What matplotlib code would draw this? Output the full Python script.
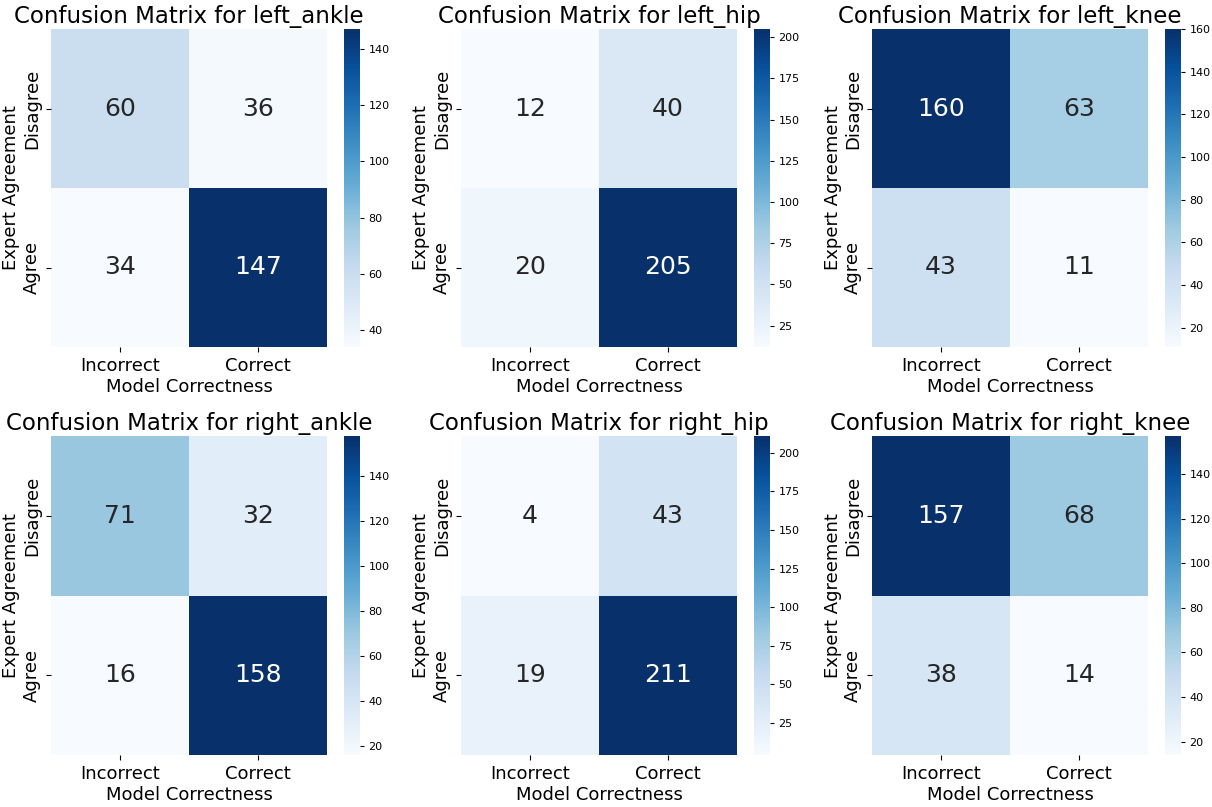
import numpy as np
import matplotlib
matplotlib.use("Agg")
import matplotlib.pyplot as plt
import seaborn as sns

joints = ["left_ankle", "left_hip", "left_knee", "right_ankle", "right_hip", "right_knee"]
row_labels = ["Disagree", "Agree"]
col_labels = ["Incorrect", "Correct"]

left_ankle = [[60, 36], [34, 147]]
left_hip = [[12, 40], [20, 205]]
left_knee = [[160, 63], [43, 11]]
right_ankle = [[71, 32], [16, 158]]
right_hip = [[4, 43], [19, 211]]
right_knee = [[157, 68], [38, 14]]

matrices = [left_ankle, left_hip, left_knee, right_ankle, right_hip, right_knee]

W, H = 1212, 807
fig = plt.figure(figsize=(W / 100, H / 100), dpi=100)

# panel grid in pixels: heatmap left edges, row top/bottom, colorbar offset
col_left = [51, 461, 872]
row_span = [(29, 347), (436, 755)]
heat_w = 276
cbar_gap, cbar_w = 17, 16


def px_axes(x0, y0, w, h):
    return fig.add_axes([x0 / W, 1 - (y0 + h) / H, w / W, h / H])


for i, (name, mat) in enumerate(zip(joints, matrices)):
    r, c = divmod(i, 3)
    top, bot = row_span[r]
    ax = px_axes(col_left[c], top, heat_w, bot - top)
    cax = px_axes(col_left[c] + heat_w + cbar_gap, top, cbar_w, bot - top)
    sns.heatmap(np.array(mat), annot=True, fmt="d", cmap="Blues", ax=ax,
                cbar_ax=cax, xticklabels=col_labels, yticklabels=row_labels,
                annot_kws={"fontsize": 18})
    ax.set_title(f"Confusion Matrix for {name}", fontsize=16.5, pad=4)
    ax.set_xlabel("Model Correctness", fontsize=13, labelpad=2)
    ax.set_ylabel("Expert Agreement", fontsize=13, labelpad=2)
    ax.tick_params(axis="both", labelsize=13)
    plt.setp(ax.get_yticklabels(), rotation=90, va="center")
    plt.setp(ax.get_xticklabels(), rotation=0)
    cax.tick_params(labelsize=8, length=3, pad=3)

fig.savefig("out.png", dpi=100)
